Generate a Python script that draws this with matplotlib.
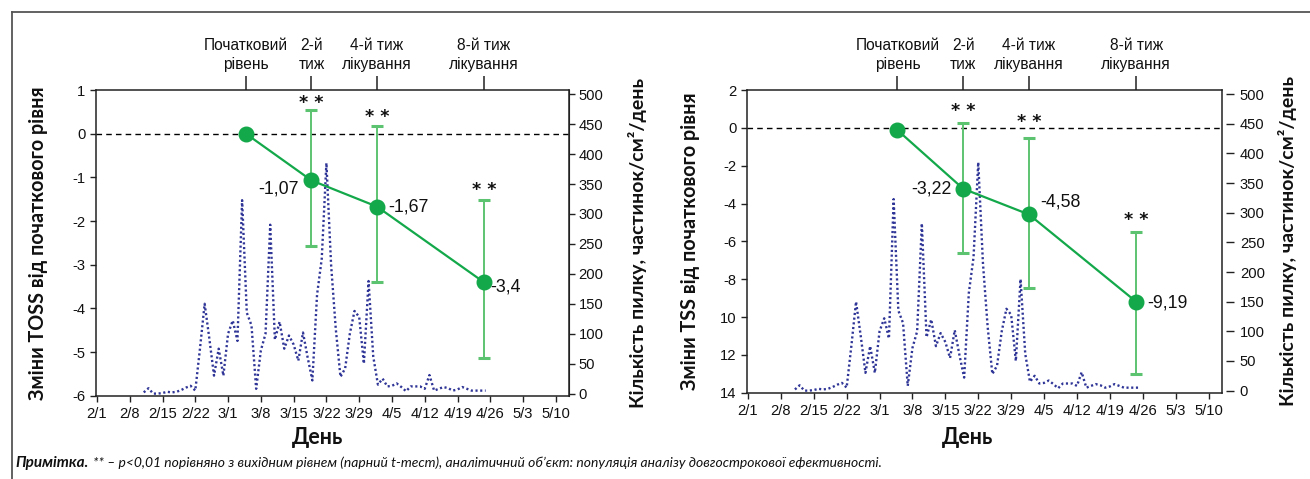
import matplotlib
matplotlib.use('Agg')
import matplotlib.pyplot as plt
from matplotlib.lines import Line2D
from matplotlib import font_manager

# ---------------- data ----------------
week_ticks = [0, 7, 14, 21, 28, 35, 42, 49, 56, 63, 70, 77, 84, 91, 98]
week_labels = ['2/1', '2/8', '2/15', '2/22', '3/1', '3/8', '3/15', '3/22',
               '3/29', '4/5', '4/12', '4/19', '4/26', '5/3', '5/10']

pollen_days = list(range(10, 84))
pollen_counts = [2, 9, 0, 0, 1, 3, 2, 3, 6, 10,
                 13, 5, 75, 150, 92, 30, 75, 30, 100, 122,
                 88, 323, 135, 114, 8, 72, 100, 282, 90, 120,
                 75, 97, 82, 55, 102, 60, 22, 165, 225, 385,
                 215, 108, 28, 42, 100, 138, 128, 50, 188, 62,
                 15, 25, 12, 13, 17, 11, 4, 12, 12, 12,
                 8, 31, 5, 8, 11, 9, 5, 7, 11, 8,
                 5, 5, 5, 5]

visit_days = [31.8, 45.8, 59.8, 82.6]
visit_labels = ['Початковий\nрівень', '2-й\nтиж', '4-й тиж\nлікування', '8-й тиж\nлікування']

toss_mean = [0.0, -1.07, -1.67, -3.4]
toss_upper = [0.55, 0.18, -1.52]
toss_lower = [-2.57, -3.40, -5.13]
toss_text = ['-1,07', '-1,67', '-3,4']
toss_star_y = [0.79, 0.47, -1.22]

tss_mean = [-0.12, -3.22, -4.58, -9.19]
tss_upper = [0.25, -0.56, -5.51]
tss_lower = [-6.61, -8.48, -13.03]
tss_text = ['-3,22', '-4,58', '-9,19']
tss_star_y = [1.05, 0.47, -4.71]

toss_yticks = [1, 0, -1, -2, -3, -4, -5, -6]
toss_ylabels = ['1', '0', '-1', '-2', '-3', '-4', '-5', '-6']
tss_yticks = [2, 0, -2, -4, -6, -8, -10, -12, -14]
tss_ylabels = ['2', '0', '-2', '-4', '-6', '-8', '10', '12', '14']
pollen_ticks = [0, 50, 100, 150, 200, 250, 300, 350, 400, 450, 500]

# ---------------- style ----------------
avail = {f.name for f in font_manager.fontManager.ttflist}
SANS = ['Liberation Sans', 'DejaVu Sans']
SANS = [f for f in SANS if f in avail] or ['DejaVu Sans']
LABEL = ['Lato', 'DejaVu Sans']
LABEL = [f for f in LABEL if f in avail] or ['DejaVu Sans']
plt.rcParams['font.family'] = SANS

GREEN = '#13a84a'
GREEN_BAR = '#5cc371'
NAVY = '#2f3596'
SPINE = '#222222'
TXT = '#111111'
TICK_FS = 10.6

W, H = 1310, 479
fig = plt.figure(figsize=(W / 100, H / 100), dpi=100)


def px_axes(x0, y0, x1, y1):
    return fig.add_axes([x0 / W, 1 - y1 / H, (x1 - x0) / W, (y1 - y0) / H])


def draw_panel(ax, mean, upper, lower, texts, text_offsets, star_y,
               yticks, ylabels, ylim, ylabel, ylab_x, rlab_x, xlab_xy,
               pollen_ylim, detached_right):
    ax2 = ax.twinx()
    ax.set_zorder(ax2.get_zorder() + 1)
    ax.patch.set_visible(False)

    # pollen
    ax2.plot(pollen_days, pollen_counts, color=NAVY, lw=1.7,
             linestyle=(0, (0.9, 1.1)), dash_capstyle='butt')
    ax2.set_ylim(*pollen_ylim)
    ax2.set_yticks(pollen_ticks)
    ax2.tick_params(axis='y', direction='out', length=4, width=1, color=SPINE,
                    labelsize=TICK_FS, pad=3, labelcolor=TXT)
    if detached_right:
        ax2.spines['right'].set_position(('outward', 3))
        ax2.spines['right'].set_visible(False)
        ax2.tick_params(axis='y', length=6, pad=4)
    for s in ['top', 'left', 'bottom']:
        ax2.spines[s].set_visible(False)
    ax2.spines['right'].set_color(SPINE)
    ax2.set_ylabel('Кількість пилку, частинок/см²/день', family=LABEL,
                   fontweight='bold', fontsize=14, color=TXT)
    ax2.yaxis.set_label_coords(rlab_x, 0.5)

    # zero line
    ax.axhline(0, color='black', lw=1.0, linestyle=(0, (4, 3)), zorder=1)

    # error bars
    xs = visit_days[1:]
    ms = mean[1:]
    yerr = [[m - lo for m, lo in zip(ms, lower)], [up - m for m, up in zip(ms, upper)]]
    _, caps, bars = ax.errorbar(xs, ms, yerr=yerr, fmt='none', ecolor=GREEN_BAR,
                                elinewidth=1.4, capsize=4.5, capthick=2.2, zorder=2)
    for c in caps:
        c.set_color(GREEN)
    # main line
    ax.plot(visit_days, mean, color=GREEN, lw=1.6, marker='o', ms=10.5,
            mfc=GREEN, mec=GREEN, zorder=3)

    for x, m, t, (dx, dy) in zip(xs, ms, texts, text_offsets):
        ax.annotate(t, (x, m), xytext=(dx, dy), textcoords='offset points',
                    ha='right' if dx < 0 else 'left', va='center',
                    fontsize=12.8, color=TXT, zorder=4)
    for x, sy in zip(xs, star_y):
        ax.annotate('* *', (x, sy), xytext=(0, -2.5), textcoords='offset points',
                    ha='center', va='center', fontsize=12.5,
                    fontweight='bold', family=['DejaVu Sans'], color=TXT)

    ax.set_xlim(-0.2, 100.8)
    ax.set_xticks(week_ticks, labels=week_labels)
    ax.set_ylim(*ylim)
    ax.set_yticks(yticks, labels=ylabels)
    ax.tick_params(axis='both', direction='out', length=4, width=1, color=SPINE,
                   labelsize=TICK_FS, labelcolor=TXT)
    ax.tick_params(axis='x', pad=4)
    for s in ax.spines.values():
        s.set_color(SPINE)
        s.set_linewidth(1.1)

    ax.set_ylabel(ylabel, family=LABEL, fontweight='bold', fontsize=14.2, color=TXT)
    ax.yaxis.set_label_coords(ylab_x, 0.5)
    ax.set_xlabel('День', family=LABEL, fontweight='bold', fontsize=15.5, color=TXT)
    ax.xaxis.set_label_coords(*xlab_xy)
    ax.xaxis.label.set_va('center')

    sec = ax.secondary_xaxis('top')
    sec.set_xticks(visit_days, labels=visit_labels)
    sec.tick_params(direction='out', length=10, width=1.1, color=SPINE,
                    labelsize=11.2, pad=3, labelcolor=TXT)
    for lab in sec.get_xticklabels():
        lab.set_linespacing(1.3)
    sec.spines['top'].set_visible(False)


axL = px_axes(96, 90, 569, 395.7)
draw_panel(axL, toss_mean, toss_upper, toss_lower, toss_text,
           [(-9, -6), (8, 0), (5, -3.5)], toss_star_y,
           toss_yticks, toss_ylabels, (-6, 1),
           'Зміни TOSS від початкового рівня', -0.101, 1.125,
           ((318 - 96) / 473, (395.7 - 437) / 305.7), (-3.5, 507), False)

axR = px_axes(747, 90, 1221.7, 392.7)
draw_panel(axR, tss_mean, tss_upper, tss_lower, tss_text,
           [(-8, 0), (8, 9), (8, -1)], tss_star_y,
           tss_yticks, tss_ylabels, (-14, 2),
           'Зміни TSS від початкового рівня', -0.099, 1.119,
           ((968 - 747) / 474.7, (392.7 - 437) / 302.7), (-3.5, 507), True)

# frame lines
fig.add_artist(Line2D([12 / W, 1.0], [1 - 12 / H, 1 - 12 / H], transform=fig.transFigure,
                      color='#555555', lw=1.3))
fig.add_artist(Line2D([12 / W, 12 / W], [0, 1 - 12 / H], transform=fig.transFigure,
                      color='#555555', lw=1.3))

# footnote
fy = 1 - 463 / H
t1 = fig.text(15 / W, fy, 'Примітка.', family=LABEL, fontweight='bold',
              style='italic', fontsize=11, va='center', ha='left', color=TXT)
fig.canvas.draw()
r = fig.canvas.get_renderer()
bb = t1.get_window_extent(r)
fig.text((bb.x1 + 5) / W, fy,
         '** – p<0,01 порівняно з вихідним рівнем (парний t-тест), аналітичний об’єкт: '
         'популяція аналізу довгострокової ефективності.',
         family=LABEL, style='italic', fontsize=10.0, va='center', ha='left', color=TXT)

fig.savefig('out.png', dpi=100)
